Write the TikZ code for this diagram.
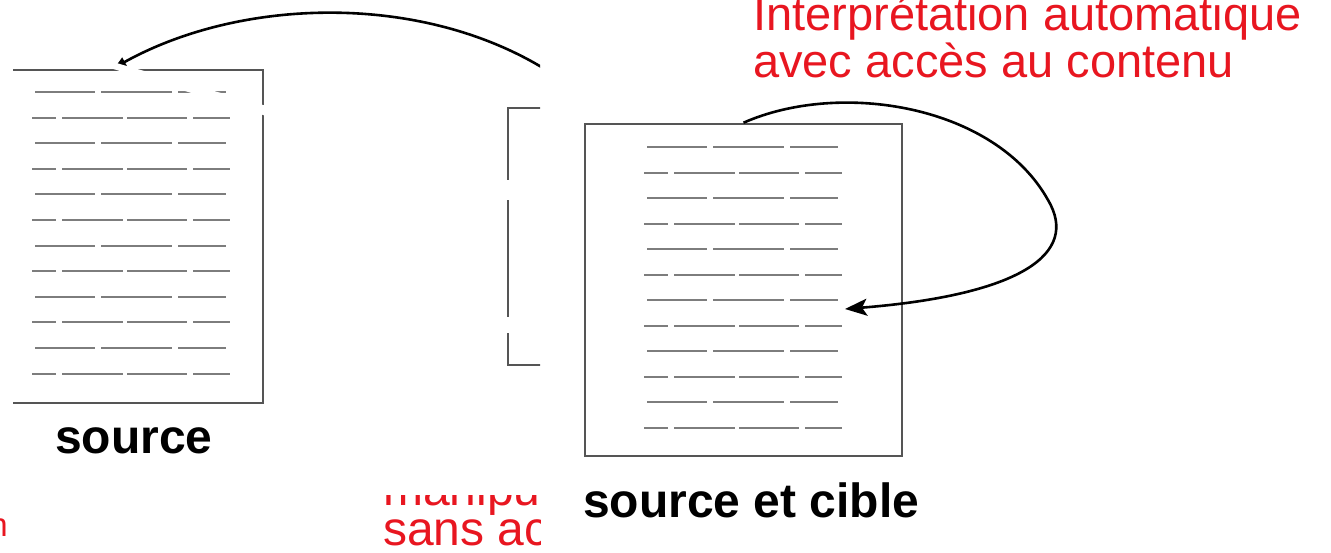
\documentclass[tikz,border=0pt]{standalone}
\usepackage{fontspec}
\setmainfont{Liberation Sans}
\usepackage{xcolor}
\usetikzlibrary{arrows.meta}

\definecolor{notered}{RGB}{232,22,32}
\definecolor{pagegray}{RGB}{85,85,85}
\definecolor{linegray}{RGB}{125,125,125}

\tikzset{
  page/.style={draw=pagegray,line width=2.5pt,inner sep=0pt},
  textline/.style={draw=linegray,line width=2pt},
  arc/.style={line width=2.6pt},
  redtext/.style={text=notered,inner sep=0pt,font=\fontsize{47}{47}\selectfont},
  doclabel/.style={inner sep=0pt,font=\fontsize{48}{48}\selectfont\bfseries},
}

% #1,#2: start of the first row, #3: row spacing
\newcommand\docrows[3]{%
  \foreach \r in {0,2,...,10}{
    \draw[textline] (#1+3,#2+#3*\r) -- (#1+63,#2+#3*\r)
                    (#1+69,#2+#3*\r) -- (#1+140,#2+#3*\r)
                    (#1+146,#2+#3*\r) -- (#1+194,#2+#3*\r);
  }
  \foreach \r in {1,3,...,11}{
    \draw[textline] (#1,#2+#3*\r) -- (#1+24,#2+#3*\r)
                    (#1+30,#2+#3*\r) -- (#1+91,#2+#3*\r)
                    (#1+95,#2+#3*\r) -- (#1+155,#2+#3*\r)
                    (#1+161,#2+#3*\r) -- (#1+198,#2+#3*\r);
  }}

\begin{document}
\begin{tikzpicture}[x=1pt,y=-1pt]
    \useasboundingbox (0,0) rectangle (1331,552);

    % sheet underneath, cut at x=540
    \begin{scope}
        \clip (13,0) rectangle (540,552);
        \node[page,minimum width=317pt,minimum height=333pt] (source) at (104.5,236.5) {};
        \docrows{32}{92}{25.6}
        \coordinate (suite) at (575,90);
        \draw[arc,-{Latex[length=14pt,width=11pt]}] (suite) .. controls (450,-8) and (250,-8) .. ([xshift=8pt]source.north);
        \fill[white] (100,58.3) -- (280,109.9) -- (280,120.2) -- (100,64.9) -- cycle;
        \draw[page] (545,108) -- (508,108) -- (508,180) (508,200) -- (508,317) (508,333) -- (508,365) -- (545,365);
        \node[doclabel,anchor=base west] (sourcelabel) at (55,453) {source};
    \end{scope}
    \begin{scope}
        \clip (0,495) rectangle (540,552);
        \node[redtext,font=\fontsize{48}{48}\selectfont,anchor=base west] (manip) at (383,505) {manipu};
        \node[redtext,font=\fontsize{48}{48}\selectfont,anchor=base west] (sansacces) at (383,545) {sans ac};
    \end{scope}
    \node[redtext,font=\fontsize{33}{33}\selectfont,anchor=base east] (bribe) at (8,536) {n};

    % source and target in one sheet
    \node[page,minimum width=317pt,minimum height=332pt] (cible) at (743.5,290) {};
    \docrows{644}{147}{25.5}
    \coordinate (cibleligne) at (845,309);
    \draw[arc,-{Stealth[length=22pt,width=17pt,inset=5pt]}] (cible.north) .. controls (840,80) and (995,105) .. (1048,200)
        .. controls (1080,254) and (1020,295) .. (cibleligne);
    \node[doclabel,anchor=base west] (ciblelabel) at (583,517) {source et cible};
    \node[redtext,anchor=base west] (interp) at (753,30) {Interprétation automatique};
    \node[redtext,anchor=base west] (acces) at (753,77) {avec accès au contenu};
\end{tikzpicture}
\end{document}
